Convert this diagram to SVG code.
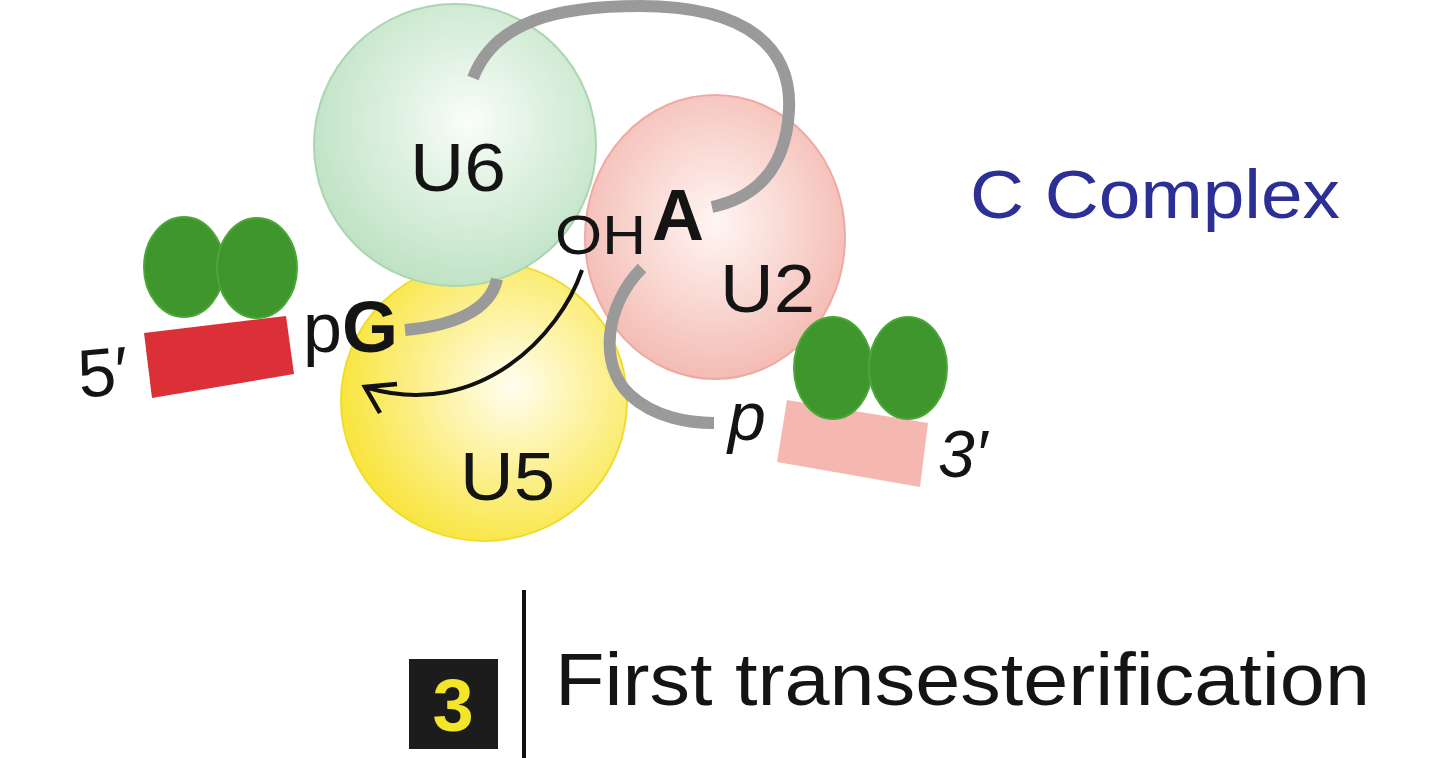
<svg xmlns="http://www.w3.org/2000/svg" width="1440" height="758" viewBox="0 0 1440 758">
<style>
.lbl{font-family:"Liberation Sans",Arial,sans-serif;fill:#141414}
.strand{fill:none;stroke:#9a9a9a;stroke-width:12;stroke-linecap:butt}
.oval{fill:#3f962c;stroke:#4ba838;stroke-width:2}
</style>
<defs>
<radialGradient id="gU6" cx="0.55" cy="0.42" r="0.62">
<stop offset="0" stop-color="#fafdfa"/><stop offset="0.35" stop-color="#e3f3e5"/><stop offset="1" stop-color="#bce1c2"/>
</radialGradient>
<radialGradient id="gU2" cx="0.5" cy="0.45" r="0.62">
<stop offset="0" stop-color="#fff5f3"/><stop offset="0.4" stop-color="#fadcd7"/><stop offset="1" stop-color="#f2b4ab"/>
</radialGradient>
<radialGradient id="gU5" cx="0.6" cy="0.45" r="0.62">
<stop offset="0" stop-color="#fffef0"/><stop offset="0.4" stop-color="#fdf3a6"/><stop offset="1" stop-color="#f8e438"/>
</radialGradient>
</defs>
<rect width="1440" height="758" fill="#ffffff"/>

<g id="U2">
<ellipse cx="715" cy="237" rx="130" ry="142" fill="url(#gU2)" stroke="#eeaaa2" stroke-width="2"/>
<text class="lbl" x="720" y="312" font-size="68" textLength="95" lengthAdjust="spacingAndGlyphs">U2</text>
</g>
<g id="U5">
<ellipse cx="484" cy="401" rx="143" ry="140" fill="url(#gU5)" stroke="#f0dc30" stroke-width="2"/>
<text class="lbl" x="460" y="500" font-size="68" textLength="95" lengthAdjust="spacingAndGlyphs">U5</text>
</g>
<g id="U6">
<circle cx="455" cy="145" r="141" fill="url(#gU6)" stroke="#a9d6b0" stroke-width="2"/>
<text class="lbl" x="410" y="191" font-size="68" textLength="96" lengthAdjust="spacingAndGlyphs">U6</text>
</g>

<g id="strands">
<path class="strand" d="M473,78 C495,20 560,6 640,6 C750,6 792,50 789,110 C786,170 755,198 712,207"/>
<path class="strand" d="M497,279 C490,312 450,326 405,330"/>
<path class="strand" d="M642,268 C605,305 598,365 630,395 C655,418 690,423 714,423"/>
</g>

<g id="exon5">
<polygon points="144,333 286,316 294,374 152,398" fill="#dc3038"/>
<ellipse class="oval" cx="184" cy="267" rx="40" ry="50"/>
<ellipse class="oval" cx="257" cy="268" rx="40" ry="50"/>
<text class="lbl" x="78" y="396" font-size="68" transform="rotate(-5 100 375)">5′</text>
</g>

<g id="exon3">
<polygon points="787,400 928,423 920,487 777,462" fill="#f4b8b0"/>
<ellipse class="oval" cx="833" cy="368" rx="39" ry="51"/>
<ellipse class="oval" cx="908" cy="368" rx="39" ry="51"/>
<text class="lbl" x="938" y="477" font-size="66" font-style="italic">3′</text>
</g>

<g id="labels">
<text class="lbl" x="555" y="254" font-size="56" textLength="91" lengthAdjust="spacingAndGlyphs">OH</text>
<text class="lbl" x="652" y="240" font-size="72" font-weight="bold">A</text>
<text class="lbl" x="303" y="352" font-size="70">p<tspan font-weight="bold" font-size="72">G</tspan></text>
<text class="lbl" x="728" y="440" font-size="68" font-style="italic">p</text>
<text x="970" y="218" font-family="Liberation Sans, Arial, sans-serif" font-size="68" fill="#2b2f96" textLength="370" lengthAdjust="spacingAndGlyphs">C Complex</text>
</g>

<g id="connectors">
<path d="M582,270 C560,335 480,420 368,388" fill="none" stroke="#111" stroke-width="4"/>
<polyline points="397,384 365,387 380,413" fill="none" stroke="#111" stroke-width="4.5" stroke-linejoin="miter"/>
</g>

<g id="step">
<rect x="409" y="659" width="89" height="90" fill="#1c1c1c"/>
<text x="453" y="731" text-anchor="middle" font-family="Liberation Sans, Arial, sans-serif" font-size="74" font-weight="bold" fill="#f3e62a">3</text>
<line x1="524" y1="590" x2="524" y2="758" stroke="#111" stroke-width="4"/>
<text class="lbl" x="555" y="705" font-size="74" textLength="815" lengthAdjust="spacingAndGlyphs">First transesterification</text>
</g>
</svg>
